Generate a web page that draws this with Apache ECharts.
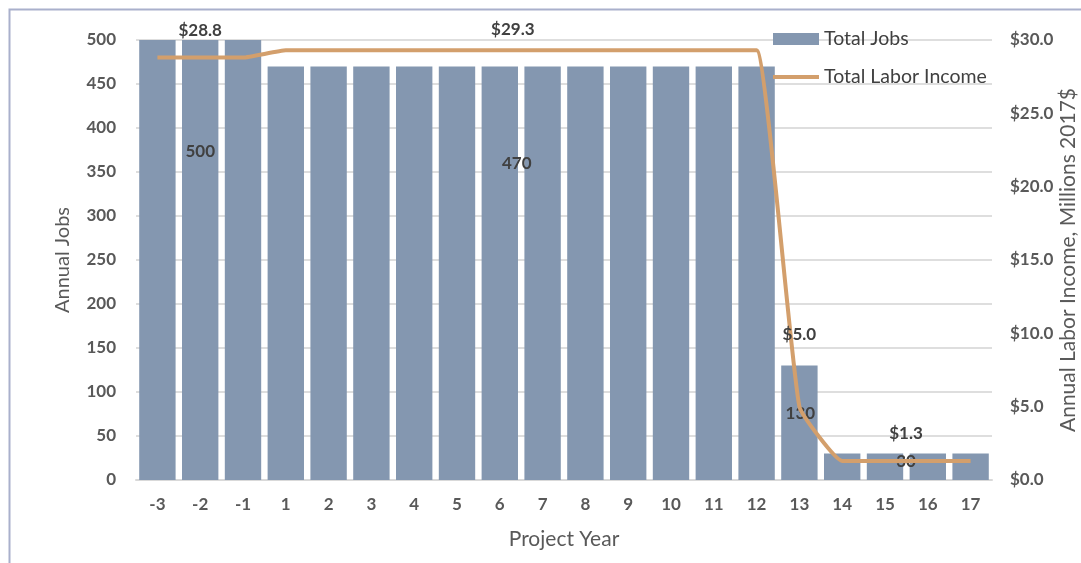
<!DOCTYPE html>
<html>
<head>
<meta charset="utf-8">
<script src="https://cdn.jsdelivr.net/npm/echarts@6/dist/echarts.min.js"></script>
<style>
  html, body { margin: 0; padding: 0; background: #fff; }
  #chart { width: 1081px; height: 563px; }
</style>
</head>
<body>
<div id="chart"></div>
<script>
// Project years and annual totals
const years = ['-3', '-2', '-1', '1', '2', '3', '4', '5', '6', '7', '8', '9', '10', '11', '12', '13', '14', '15', '16', '17'];
const totalJobs = [500, 500, 500, 470, 470, 470, 470, 470, 470, 470, 470, 470, 470, 470, 470, 130, 30, 30, 30, 30];
const laborIncome = [28.8, 28.8, 28.8, 29.3, 29.3, 29.3, 29.3, 29.3, 29.3, 29.3, 29.3, 29.3, 29.3, 29.3, 29.3, 5.0, 1.3, 1.3, 1.3, 1.3];
const jobTicks = [0, 50, 100, 150, 200, 250, 300, 350, 400, 450, 500];
const incomeTicks = [0, 5, 10, 15, 20, 25, 30];

const FONT = 'Lato, "Open Sans", sans-serif';
const TEXT = '#595959';
const DARK = '#404040';
const BAR = '#8497B0';
const LINE = '#D39F6C';

// Only one value per run of equal values is annotated; offsets nudge each label into place.
const jobLabelOffsets = { 1: [0, -108], 8: [17, -110], 15: [1, -9], 17: [21, -5] };
const incomeLabelOffsets = { 1: [0, -5], 8: [13, 2], 15: [0, -50], 17: [21, -5] };

const jobData = totalJobs.map((v, i) => {
  const off = jobLabelOffsets[i];
  return off ? { value: v, label: { show: true, position: 'inside', offset: off } } : v;
});
const incomeData = laborIncome.map((v, i) => {
  const off = incomeLabelOffsets[i];
  return off ? { value: v, label: { show: true, position: 'top', distance: 14, offset: off } } : v;
});

const legendText = { fontFamily: FONT, fontSize: 19.5, color: DARK, lineHeight: 20 };

const chart = echarts.init(document.getElementById('chart'), null, { renderer: 'canvas' });
chart.setOption({
  backgroundColor: '#ffffff',
  animation: false,
  textStyle: { fontFamily: FONT },
  graphic: [{
    type: 'rect',
    shape: { x: 9.5, y: 9.5, width: 1200, height: 700 },
    style: { fill: 'none', stroke: '#A9B0CC', lineWidth: 2 },
    z: -1, silent: true
  }],
  grid: { left: 136, right: 89, top: 40, bottom: 83, containLabel: false, outerBoundsMode: 'none' },
  legend: [{
    left: 773, top: 29,
    itemWidth: 46, itemHeight: 12,
    padding: 0,
    textStyle: legendText,
    data: [{ name: 'Total Jobs', icon: 'rect' }]
  }, {
    left: 773, top: 67,
    itemWidth: 46, itemHeight: 4,
    padding: 0,
    textStyle: legendText,
    data: [{ name: 'Total Labor Income', icon: 'rect' }]
  }],
  xAxis: {
    type: 'category',
    data: years,
    boundaryGap: true,
    name: 'Project Year',
    nameLocation: 'middle',
    nameGap: 49,
    nameTextStyle: { fontFamily: FONT, fontSize: 21, color: TEXT },
    axisLine: { lineStyle: { color: '#D9D9D9', width: 2 } },
    axisTick: { show: false },
    axisLabel: { color: TEXT, fontWeight: 'bold', fontSize: 17, margin: 16, fontFamily: FONT }
  },
  yAxis: [{
    type: 'value',
    min: jobTicks[0], max: jobTicks[jobTicks.length - 1], interval: jobTicks[1] - jobTicks[0],
    name: 'Annual Jobs',
    nameLocation: 'middle',
    nameRotate: 90,
    nameGap: 63,
    nameTextStyle: { fontFamily: FONT, fontSize: 20, color: TEXT },
    axisLine: { show: false },
    axisTick: { show: false },
    axisLabel: { color: TEXT, fontWeight: 'bold', fontSize: 17, margin: 20, fontFamily: FONT },
    splitLine: { lineStyle: { color: '#DEDEDE', width: 2 } }
  }, {
    type: 'value',
    position: 'right',
    min: incomeTicks[0], max: incomeTicks[incomeTicks.length - 1], interval: incomeTicks[1] - incomeTicks[0],
    name: 'Annual Labor Income, Millions 2017$',
    nameLocation: 'middle',
    nameRotate: 90,
    nameGap: 66,
    nameMoveOverlap: false,
    nameTextStyle: { fontFamily: FONT, fontSize: 21, color: TEXT },
    axisLine: { show: false },
    axisTick: { show: false },
    axisLabel: { color: TEXT, fontWeight: 'bold', fontSize: 17, margin: 18, fontFamily: FONT,
      formatter: v => '$' + v.toFixed(1) },
    splitLine: { show: false }
  }],
  series: [{
    name: 'Total Jobs',
    type: 'bar',
    yAxisIndex: 0,
    data: jobData,
    barCategoryGap: '15%',
    itemStyle: { color: BAR },
    label: { show: false, color: DARK, fontWeight: 'bold', fontSize: 17, fontFamily: FONT },
    z: 2
  }, {
    name: 'Total Labor Income',
    type: 'line',
    yAxisIndex: 1,
    data: incomeData,
    smooth: 0.12,
    symbol: 'circle',
    symbolSize: 0,
    showSymbol: true,
    lineStyle: { color: LINE, width: 4 },
    itemStyle: { color: LINE },
    label: { show: false, color: DARK, fontWeight: 'bold', fontSize: 17, fontFamily: FONT,
      formatter: p => '$' + p.value.toFixed(1) },
    z: 3
  }]
});
</script>
</body>
</html>
